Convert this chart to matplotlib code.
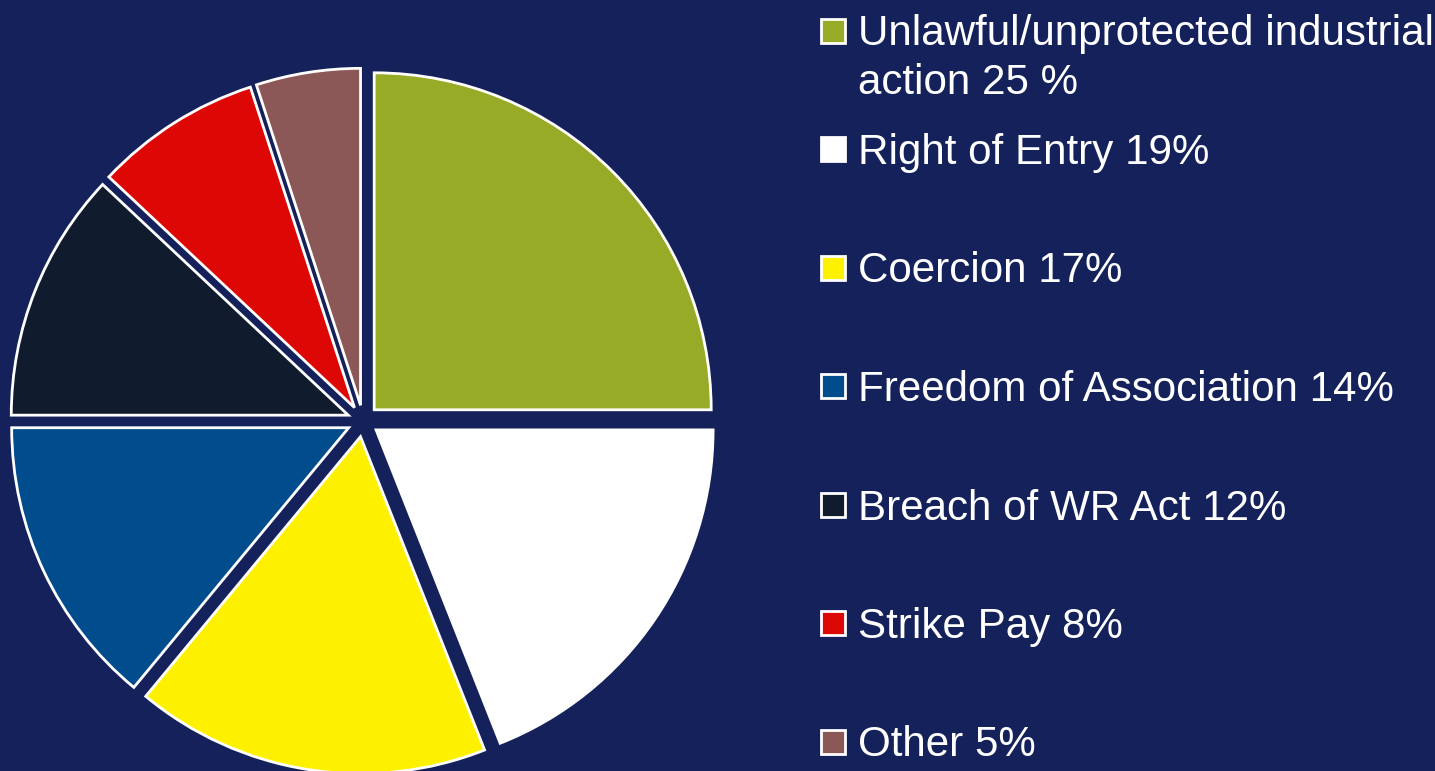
import matplotlib.pyplot as plt
from matplotlib.patches import Rectangle

labels = ['Unlawful/unprotected industrial\naction 25 %',
          'Right of Entry 19%',
          'Coercion 17%',
          'Freedom of Association 14%',
          'Breach of WR Act 12%',
          'Strike Pay 8%',
          'Other 5%']
shares = [25, 19, 17, 14, 12, 8, 5]
colors = ['#97AB27', '#FFFFFF', '#FDF100', '#004C8C', '#101C2E', '#DD0806', '#8B5757']

bg = '#14215A'
W, H = 1435, 771

plt.rcParams['font.family'] = ['Liberation Sans', 'DejaVu Sans']

fig = plt.figure(figsize=(W / 100, H / 100), dpi=100, facecolor=bg)
ax = fig.add_axes([0, 0, 1, 1])
ax.set_facecolor(bg)

# pie centre at pixel (363, 421), radius 337 px
R = 337.0
cx, cy = 363, 421

ax.pie(shares, colors=colors, startangle=90, counterclock=False,
       explode=[0.047] * len(shares), radius=1,
       wedgeprops={'edgecolor': 'white', 'linewidth': 2},
       shadow={'ox': -2.5, 'oy': -2.5, 'facecolor': 'black',
               'edgecolor': 'black', 'alpha': 1})
ax.set_xlim(-cx / R, (W - cx) / R)
ax.set_ylim(-(H - cy) / R, cy / R)
ax.set_aspect('equal')
ax.axis('off')

# legend drawn by hand, rows 118 px apart
row_y = 30
for lab, col in zip(labels, colors):
    yf = 1 - row_y / H
    sq = Rectangle((821 / W, yf - 12.5 / H), 24 / W, 24 / H, transform=fig.transFigure,
                   facecolor=col, edgecolor='white', linewidth=2)
    fig.patches.append(sq)
    for i, line in enumerate(lab.split('\n')):
        fig.text(858 / W, yf - i * 48 / H, line, color='white', fontsize=30.3,
                 va='center_baseline', ha='left')
    row_y += 118.5

fig.savefig('out.png', dpi=100, facecolor=bg)
